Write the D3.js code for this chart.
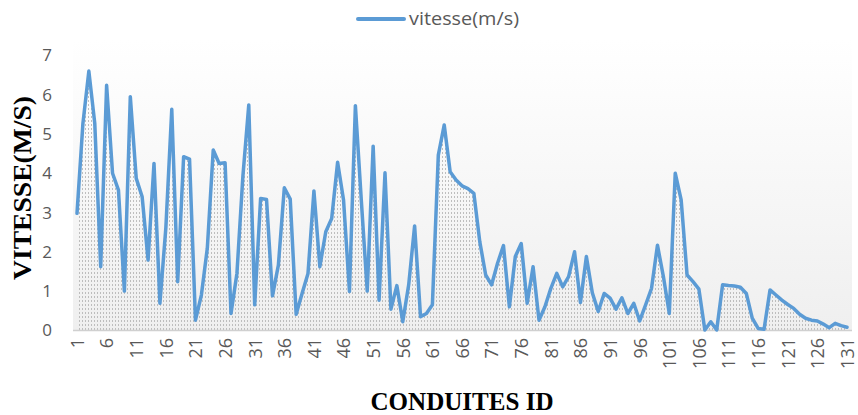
<!DOCTYPE html>
<html>
<head>
<meta charset="utf-8">
<script src="https://cdn.jsdelivr.net/npm/d3@7"></script>
<style>
  html, body { margin: 0; padding: 0; background: #fff; }
  svg { display: block; }
</style>
</head>
<body>
<svg id="chart" width="858" height="415"></svg>
<script>
const seriesName = "vitesse(m/s)";
const yTitle = "VITESSE(M/S)";
const xTitle = "CONDUITES ID";
const ids = d3.range(1, 132);
const vitesse = [
  2.97, 5.26, 6.59, 5.26, 1.61, 6.23, 3.99, 3.56, 0.99, 5.94,
  3.86, 3.39, 1.78, 4.24, 0.68, 2.60, 5.62, 1.23, 4.41, 4.35,
  0.25, 0.89, 2.08, 4.58, 4.24, 4.26, 0.42, 1.44, 3.90, 5.73,
  0.64, 3.35, 3.32, 0.87, 1.65, 3.62, 3.33, 0.40, 0.93, 1.44,
  3.54, 1.61, 2.50, 2.84, 4.27, 3.31, 0.98, 5.71, 3.30, 0.99,
  4.68, 0.76, 4.00, 0.53, 1.13, 0.21, 1.15, 2.65, 0.34, 0.42,
  0.64, 4.45, 5.22, 4.03, 3.82, 3.67, 3.60, 3.48, 2.25, 1.40,
  1.15, 1.70, 2.15, 0.59, 1.87, 2.20, 0.68, 1.61, 0.25, 0.59,
  1.06, 1.44, 1.10, 1.36, 1.99, 0.70, 1.87, 0.95, 0.47, 0.93,
  0.81, 0.53, 0.82, 0.42, 0.68, 0.23, 0.64, 1.06, 2.16, 1.36,
  0.42, 3.99, 3.31, 1.40, 1.23, 1.04, 0.00, 0.21, 0.00, 1.15,
  1.13, 1.12, 1.09, 0.93, 0.30, 0.04, 0.02, 1.02, 0.89, 0.76,
  0.65, 0.55, 0.40, 0.30, 0.25, 0.23, 0.15, 0.06, 0.17, 0.11,
  0.07
];
const yTicks = [0, 1, 2, 3, 4, 5, 6, 7];
const xTickLabels = ids.filter(d => (d - 1) % 5 === 0);

const data = ids.map((id, i) => ({ id, v: vitesse[i] }));

const svg = d3.select("#chart");
const plotLeft = 73, plotRight = 852, plotTop = 40, plotBottom = 330;

const x = d3.scaleLinear().domain([1, 131]).range([77, 847]);
const y = d3.scaleLinear().domain([0, 7]).range([330, 55]);

const defs = svg.append("defs");
const grad = defs.append("linearGradient").attr("id", "bg")
  .attr("x1", 0).attr("y1", 0).attr("x2", 0).attr("y2", 1);
grad.append("stop").attr("offset", "0%").attr("stop-color", "#ffffff");
grad.append("stop").attr("offset", "100%").attr("stop-color", "#efefef");

const pat = defs.append("pattern").attr("id", "dots")
  .attr("patternUnits", "userSpaceOnUse")
  .attr("width", 3).attr("height", 4);
pat.append("rect").attr("x", 1).attr("y", 0).attr("width", 1).attr("height", 2)
  .attr("fill", "#b0b0b0");

svg.append("rect")
  .attr("x", plotLeft).attr("y", plotTop)
  .attr("width", plotRight - plotLeft).attr("height", plotBottom - plotTop)
  .attr("fill", "url(#bg)");

const area = d3.area().x(d => x(d.id)).y0(y(0)).y1(d => y(d.v));
svg.append("path").datum(data).attr("d", area)
  .attr("fill", "url(#dots)").attr("opacity", 0.8);

// x axis line
svg.append("line")
  .attr("x1", plotLeft).attr("x2", plotRight)
  .attr("y1", y(0) + 0.5).attr("y2", y(0) + 0.5)
  .attr("stroke", "#d0d0d0").attr("stroke-width", 1.5);

const line = d3.line().x(d => x(d.id)).y(d => y(d.v));
svg.append("path").datum(data).attr("d", line)
  .attr("fill", "none").attr("stroke", "#5B9BD5")
  .attr("stroke-width", 3.5).attr("stroke-linejoin", "round")
  .attr("stroke-linecap", "round");

// y axis
const yAxis = d3.axisLeft(y).tickValues(yTicks).tickSize(0).tickPadding(0).tickFormat(d3.format("d"));
const gy = svg.append("g").attr("transform", "translate(52,0)").call(yAxis);
gy.select(".domain").remove();
gy.selectAll("text")
  .attr("font-family", "'Open Sans', sans-serif")
  .attr("font-size", 17).attr("fill", "#595959")
  .attr("text-anchor", "end").attr("dy", "0.35em");

// x axis labels
const xAxis = d3.axisBottom(x).tickValues(xTickLabels).tickSize(0).tickFormat(d3.format("d"));
const gx = svg.append("g").attr("transform", `translate(0,${y(0)})`).call(xAxis);
gx.select(".domain").remove();
gx.selectAll("text")
  .attr("font-family", "'Open Sans', sans-serif")
  .attr("font-size", 18).attr("fill", "#595959")
  .attr("text-anchor", "end")
  .attr("transform", "rotate(-90)")
  .attr("x", -8).attr("y", 0).attr("dy", "0.35em");

// titles
svg.append("text")
  .attr("x", 462).attr("y", 410)
  .attr("text-anchor", "middle")
  .attr("font-family", "'Liberation Serif', 'Times New Roman', serif")
  .attr("font-weight", "bold").attr("font-size", 25)
  .attr("textLength", 183).attr("lengthAdjust", "spacingAndGlyphs")
  .text(xTitle);

svg.append("text")
  .attr("transform", "translate(31,188) rotate(-90)")
  .attr("text-anchor", "middle")
  .attr("font-family", "'Liberation Serif', 'Times New Roman', serif")
  .attr("font-weight", "bold").attr("font-size", 25)
  .attr("textLength", 184).attr("lengthAdjust", "spacingAndGlyphs")
  .text(yTitle);

// legend
svg.append("line")
  .attr("x1", 358).attr("x2", 404).attr("y1", 19).attr("y2", 19)
  .attr("stroke", "#5B9BD5").attr("stroke-width", 4).attr("stroke-linecap", "round");
svg.append("text")
  .attr("x", 409).attr("y", 25)
  .attr("font-family", "'Open Sans', sans-serif")
  .attr("font-size", 18).attr("fill", "#595959")
  .attr("textLength", 110).attr("lengthAdjust", "spacingAndGlyphs")
  .text(seriesName);
</script>
</body>
</html>
